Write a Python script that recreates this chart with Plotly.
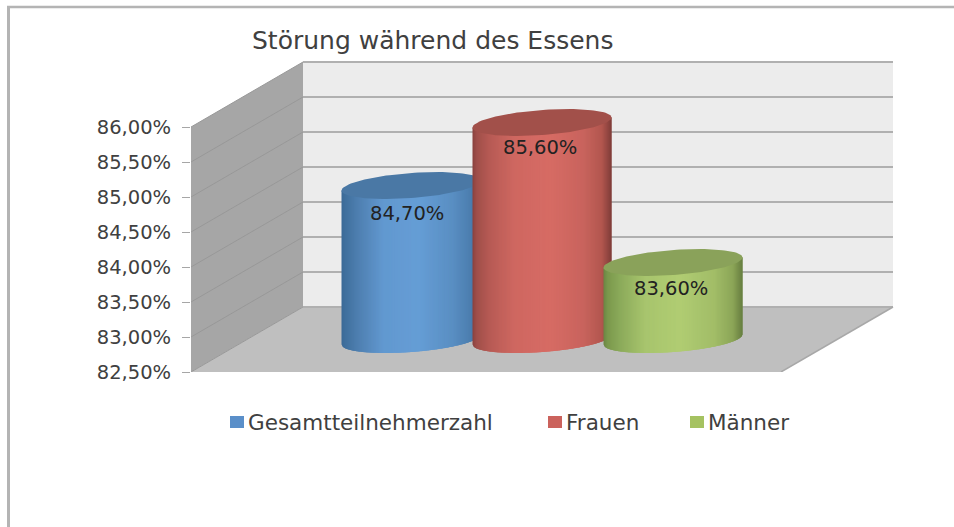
import numpy as np
import plotly.graph_objects as go

# ---- data ----
categories = ["Gesamtteilnehmerzahl", "Frauen", "Männer"]
values = [84.7, 85.6, 83.6]
value_labels = ["84,70%", "85,60%", "83,60%"]
tick_values = [82.5, 83.0, 83.5, 84.0, 84.5, 85.0, 85.5, 86.0]
tick_labels = ["82,50%", "83,00%", "83,50%", "84,00%", "84,50%", "85,00%", "85,50%", "86,00%"]
title_text = "Störung während des Essens"

# ---- styles ----
W, H = 954, 527
L, R, T, B = 191, 900, 52, 372      # plot area in pixels
PX_X = 131.0                         # pixels per category
PX_Y = 70.0                          # pixels per value unit
X0_PX = 411.0                        # pixel of first category
Y_BASE = tick_values[0]
DEPTH_X = 112 / PX_X
DEPTH_Y = 65 / PX_Y
Y_TOP = Y_BASE + (B - T) / PX_Y
X_LEFT = (L - X0_PX) / PX_X
X_RIGHT = (R - X0_PX) / PX_X
WALL_RIGHT = X_LEFT + (893 - 191) / PX_X
FRONT_RIGHT = WALL_RIGHT - DEPTH_X

RADIUS = 69.5 / PX_X
CAP_B = 12.5 / PX_Y
CAP_S = 5.0 / PX_Y

ramps = [
    {"pos": [0, .03, .12, .3, .55, .8, .93, 1],
     "col": ["#3c6a97", "#41719f", "#4f80b1", "#6299d0", "#669ed6", "#5a8fc3", "#4c7eaf", "#3e6c98"],
     "cap": "#4a78a5", "swatch": "#5a8fc9"},
    {"pos": [0, .03, .12, .3, .55, .8, .93, 1],
     "col": ["#8a423e", "#a04f4a", "#b75b55", "#cf6861", "#d76c65", "#c9645e", "#b3574f", "#7f3d39"],
     "cap": "#a2504a", "swatch": "#cb625c"},
    {"pos": [0, .03, .12, .3, .55, .8, .93, 1],
     "col": ["#6a8644", "#7b994d", "#8cab5b", "#a8c56e", "#b1cd73", "#a2bd68", "#8ca658", "#677f40"],
     "cap": "#8aa25a", "swatch": "#a5c261"},
]
wall_side = "#a6a6a6"
wall_back = "#ececec"
floor_col = "#bfbfbf"
grid_col = "#b0b0b0"
grid_side = "#989898"
text_col = "#404040"
FONT = "DejaVu Sans"


def hex2rgb(h):
    return np.array([int(h[i:i + 2], 16) for i in (1, 3, 5)], dtype=float)


def ramp_colour(ramp, u):
    cols = np.array([hex2rgb(c) for c in ramp["col"]])
    return "rgb(%d,%d,%d)" % tuple(np.interp(u, ramp["pos"], cols[:, k]) for k in range(3))


def poly(points):
    return "M" + " L".join(f"{x:.5f} {y:.5f}" for x, y in points) + " Z"


shapes = []
# back wall
shapes.append(dict(type="path", xref="x", yref="y", layer="below", line_width=0, fillcolor=wall_back,
                   path=poly([(X_LEFT + DEPTH_X, Y_BASE + DEPTH_Y), (WALL_RIGHT, Y_BASE + DEPTH_Y),
                              (WALL_RIGHT, tick_values[-1] + DEPTH_Y), (X_LEFT + DEPTH_X, tick_values[-1] + DEPTH_Y)])))
# side wall
shapes.append(dict(type="path", xref="x", yref="y", layer="below", line_width=0, fillcolor=wall_side,
                   path=poly([(X_LEFT, Y_BASE), (X_LEFT + DEPTH_X, Y_BASE + DEPTH_Y),
                              (X_LEFT + DEPTH_X, tick_values[-1] + DEPTH_Y), (X_LEFT, tick_values[-1])])))
# floor
shapes.append(dict(type="path", xref="x", yref="y", layer="below", line_width=0, fillcolor=floor_col,
                   path=poly([(X_LEFT, Y_BASE), (X_LEFT + DEPTH_X, Y_BASE + DEPTH_Y),
                              (WALL_RIGHT, Y_BASE + DEPTH_Y), (FRONT_RIGHT, Y_BASE)])))
# gridlines
for v in tick_values:
    shapes.append(dict(type="line", xref="x", yref="y", layer="below", line=dict(color=grid_col, width=2),
                       x0=X_LEFT + DEPTH_X, x1=WALL_RIGHT, y0=v + DEPTH_Y, y1=v + DEPTH_Y))
    shapes.append(dict(type="line", xref="x", yref="y", layer="below", line=dict(color=grid_side, width=1),
                       x0=X_LEFT, x1=X_LEFT + DEPTH_X, y0=v, y1=v + DEPTH_Y))
shapes.append(dict(type="line", xref="x", yref="y", layer="below", line=dict(color="#a8a8a8", width=1.5),
                   x0=FRONT_RIGHT, x1=WALL_RIGHT, y0=Y_BASE, y1=Y_BASE + DEPTH_Y))

# frame of the picture
shapes.append(dict(type="line", xref="paper", yref="paper", x0=(8.5 - L) / (R - L), x1=(8.5 - L) / (R - L),
                   y0=(B - 6.5) / (B - T), y1=(B - H - 5) / (B - T), line=dict(color="#b4b4b4", width=3)))
shapes.append(dict(type="line", xref="paper", yref="paper", x0=(7 - L) / (R - L), x1=(W + 5 - L) / (R - L),
                   y0=(B - 7) / (B - T), y1=(B - 7) / (B - T), line=dict(color="#b4b4b4", width=2.5)))

fig = go.Figure()

N = 140
for i, (name, v, ramp) in enumerate(zip(categories, values, ramps)):
    top = v + DEPTH_Y / 2
    base = Y_BASE + DEPTH_Y / 2
    edges = np.linspace(-1, 1, N + 1)
    for k in range(N):
        a, b = edges[k], min(edges[k + 1] + 0.02, 1)
        c = np.linspace(a, b, 4)
        low = base - CAP_B * np.sqrt(np.clip(1 - c ** 2, 0, 1)) + CAP_S * c
        up = top + CAP_S * c
        xs = i + RADIUS * np.r_[c, c[::-1]]
        ys = np.r_[low, up[::-1]]
        fig.add_trace(go.Scatter(x=xs, y=ys, mode="lines", fill="toself", line=dict(width=0),
                                 fillcolor=ramp_colour(ramp, (k + .5) / N),
                                 hoverinfo="skip", showlegend=False))
    t = np.linspace(0, 2 * np.pi, 121)
    fig.add_trace(go.Scatter(x=i + RADIUS * np.cos(t),
                             y=top + CAP_S * np.cos(t) + CAP_B * np.sin(t),
                             mode="lines", fill="toself", line=dict(width=0),
                             fillcolor=ramp["cap"], hoverinfo="skip", showlegend=False))

annotations = []
label_xshift = [-4, -2, -2]
label_yshift = [-28, -25, -26]
for i, (lab, v) in enumerate(zip(value_labels, values)):
    annotations.append(dict(x=i, y=v + DEPTH_Y / 2, xref="x", yref="y", text=lab, showarrow=False,
                            xshift=label_xshift[i], yshift=label_yshift[i],
                            font=dict(family=FONT, size=19.5, color="#222222")))

# legend row
legend_sw = [230, 548, 690]
legend_tx = [246, 564, 706]
for name, ramp, sx, tx in zip(categories, ramps, legend_sw, legend_tx):
    shapes.append(dict(type="rect", xref="paper", yref="paper",
                       x0=(sx - L) / (R - L), x1=(sx + 14 - L) / (R - L),
                       y0=(B - 428) / (B - T), y1=(B - 416) / (B - T),
                       fillcolor=ramp["swatch"], line_width=0))
    annotations.append(dict(x=(tx - L) / (R - L), y=(B - 422) / (B - T), xref="paper", yref="paper",
                            xanchor="left", yanchor="middle", text=name, showarrow=False,
                            font=dict(family=FONT, size=21.5, color=text_col)))

fig.update_layout(
    width=W, height=H, autosize=False,
    margin=dict(l=L, r=W - R, t=T, b=H - B, pad=0),
    paper_bgcolor="white", plot_bgcolor="white", showlegend=False,
    title=dict(text=title_text, x=252 / W, xref="container", xanchor="left",
               y=1 - 40 / H, yref="container", yanchor="middle",
               font=dict(family=FONT, size=25, color=text_col)),
    xaxis=dict(visible=False, range=[X_LEFT, X_RIGHT], fixedrange=True),
    yaxis=dict(range=[Y_BASE, Y_TOP], tickmode="array", tickvals=tick_values, ticktext=tick_labels,
               ticks="outside", ticklen=8, tickcolor="#a6a6a6", tickwidth=1, showgrid=False, zeroline=False,
               showline=False, ticklabelstandoff=7, fixedrange=True,
               tickfont=dict(family=FONT, size=19.5, color=text_col)),
    shapes=shapes, annotations=annotations,
)

fig.write_html("out.html", config={"displayModeBar": False},
               post_script="document.body.style.margin='0';document.documentElement.style.overflow='hidden';")
